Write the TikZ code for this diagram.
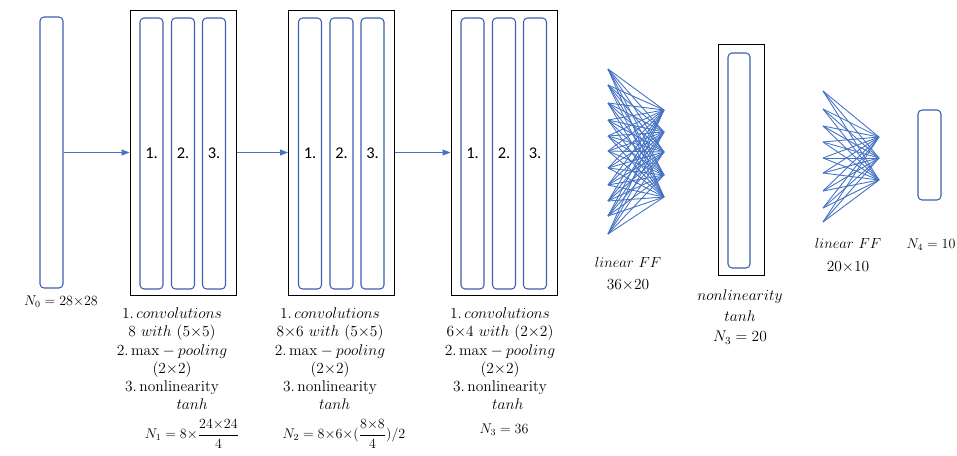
\documentclass[tikz,border=0pt]{standalone}
\usepackage{fix-cm}
\usepackage{amsmath,amssymb}
\usepackage{fontspec}
\usepackage{tikz}
\usetikzlibrary{arrows.meta,positioning}
\newfontfamily\calfont{Carlito}
\definecolor{office}{HTML}{4472C4}
\definecolor{barblue}{HTML}{3A5FAE}

\begin{document}
\begin{tikzpicture}[x=0.3mm, y=-0.3mm,
    bar/.style={rectangle, rounded corners=1.2mm, draw=barblue, line width=0.9pt, minimum width=6.9mm, minimum height=81.3mm, inner sep=0pt, font=\calfont\fontsize{14}{16}\selectfont},
    block/.style={rectangle, draw=black, line width=0.85pt, minimum width=31.8mm, minimum height=85.5mm, inner sep=0pt},
    lbl/.style={align=center, font=\fontsize{13.2}{15.6}\selectfont, inner sep=0pt},
    nlbl/.style={lbl, font=\fontsize{12}{15}\selectfont},
    flow/.style={-{Triangle[length=2.4mm,width=1.8mm]}, office, line width=0.7pt},
    fc/.style={office, line width=0.75pt}
]
    \useasboundingbox (0,0) rectangle (957,455);

    % Input layer
    \node[bar] (in) at (51.5,152.5) {};
    \node[nlbl] (n0) at (61,302) {$N_0 = 28{\times}28$};

    % Convolution blocks
    \foreach \bx/\nm in {183/c1, 341.5/c2, 504/c3} {
        \node[block] (\nm) at (\bx,152.5) {};
        \node[bar] (\nm-1) at ([xshift=-9.45mm,yshift=-0.3mm]\nm.center) {1.};
        \node[bar] (\nm-2) at ([yshift=-0.3mm]\nm.center) {2.};
        \node[bar] (\nm-3) at ([xshift=9.3mm,yshift=-0.3mm]\nm.center) {3.};
    }
    \draw[flow] (in.east) -- (c1.west);
    \draw[flow] (c1.east) -- (c2.west);
    \draw[flow] (c2.east) -- (c3.west);

    % Labels below blocks
    \node[lbl, anchor=north] (t1) at (172,307.5) {$1.\,convolutions$\\ $8\ with\ (5{\times}5)$\\ $2.\,\mathrm{max} - pooling$\\ $(2{\times}2)$\\ $3.\,\mathrm{nonlinearity}$\\ \hspace*{2.6em}$tanh$};
    \node[lbl, anchor=north] (t2) at (330,307.5) {$1.\,convolutions$\\ $8{\times}6\ with\ (5{\times}5)$\\ $2.\,\mathrm{max} - pooling$\\ $(2{\times}2)$\\ $3.\,\mathrm{nonlinearity}$\\ \hspace*{0.6em}$tanh$};
    \node[lbl, anchor=north] (t3) at (500,307.5) {$1.\,convolutions$\\ $6{\times}4\ with\ (2{\times}2)$\\ $2.\,\mathrm{max} - pooling$\\ $(2{\times}2)$\\ $3.\,\mathrm{nonlinearity}$\\ \hspace*{1em}$tanh$};
    \node[nlbl] (n1) at (192,434) {$N_1 = 8{\times}\dfrac{24{\times}24}{4}$};
    \node[nlbl] (n2) at (344,434) {$N_2 = 8{\times}6{\times}(\dfrac{8{\times}8}{4})/2$};
    \node[nlbl] (n3) at (504,430) {$N_3 = 36$};

    % Linear FF 36x20
    \foreach \y [count=\i] in {69,85,103,120,136,151,168,185,201,216,234}
        \coordinate (a\i) at (608,\y);
    \foreach \y [count=\j] in {110,132,152,175,197}
        \coordinate (b\j) at (664,\y);
    \foreach \i in {1,...,11}
        \foreach \j in {1,...,5}
            \draw[fc] (a\i) -- (b\j);
    \node[lbl, font=\fontsize{12.5}{15}\selectfont] (ff1) at (628,262) {$linear\ FF$};
    \node[lbl] (ff1d) at (628,285) {$36{\times}20$};

    % Nonlinearity layer
    \node[block, minimum width=13.8mm, minimum height=69.3mm] (nl) at (741,159.5) {};
    \node[bar, minimum width=6.6mm, minimum height=64.5mm] (nlin) at (739,160.5) {};
    \node[lbl, font=\fontsize{13.2}{17.5}\selectfont] (nlt) at (740,317) {$nonlinearity$\\ $tanh$\\ $N_3 = 20$};

    % Linear FF 20x10
    \foreach \y [count=\i] in {91,109,126,142,158,173,191,208,222}
        \coordinate (p\i) at (823,\y);
    \foreach \y [count=\j] in {137,158,180}
        \coordinate (q\j) at (879,\y);
    \foreach \i in {1,...,9}
        \foreach \j in {1,...,3}
            \draw[fc] (p\i) -- (q\j);
    \node[lbl, font=\fontsize{12.5}{15}\selectfont] (ff2) at (848,243) {$linear\ FF$};
    \node[lbl] (ff2d) at (848,267) {$20{\times}10$};

    % Output layer
    \node[bar, minimum height=27mm] (out) at (929.5,155) {};
    \node[nlbl] (n4) at (931,245) {$N_4 = 10$};

\end{tikzpicture}
\end{document}
